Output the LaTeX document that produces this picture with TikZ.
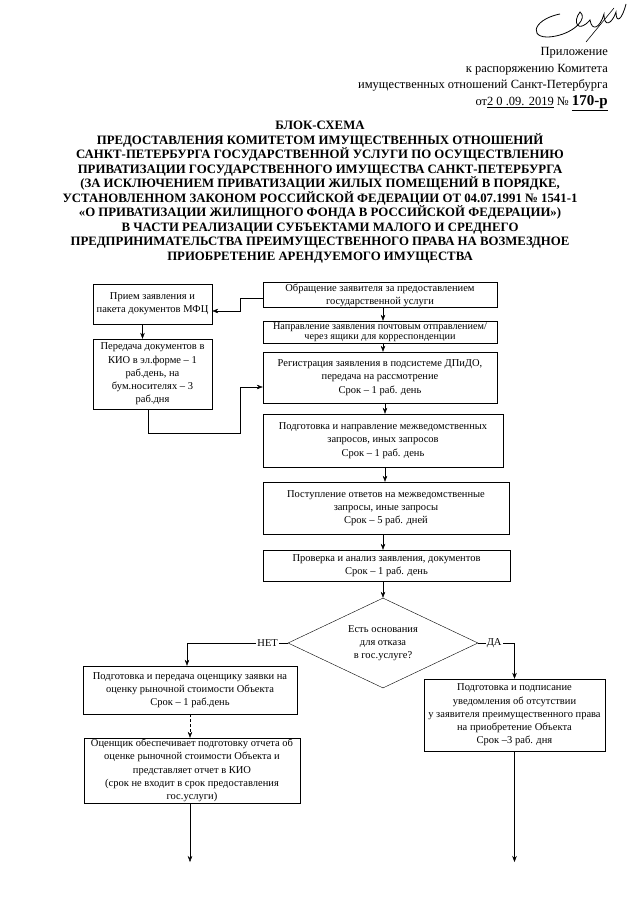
\documentclass[tikz,border=0pt]{standalone}
\usepackage{fontspec}
\setmainfont{Liberation Serif}
\usetikzlibrary{arrows.meta, shapes.geometric}

\tikzset{
    box/.style={draw, thin, align=center, inner sep=1pt,
        font=\fontsize{10.5}{13.2}\selectfont},
    lbl/.style={fill=white, inner sep=1pt, font=\fontsize{10.5}{11}\selectfont},
    >={Stealth[length=6pt, width=4.5pt]}
}

\begin{document}
\begin{tikzpicture}[x=1pt, y=-1pt]
    \useasboundingbox (0,0) rectangle (640,905);

    % signature
    \draw[line width=0.8pt]
        (560,14) .. controls (530,20) and (528,42) .. (556,36)
        .. controls (575,32) and (588,18) .. (580,12)
        .. controls (572,22) and (578,34) .. (590,20)
        .. controls (592,32) and (600,28) .. (604,14)
        .. controls (604,28) and (612,24) .. (616,12)
        .. controls (616,24) and (622,20) .. (626,4);
    \draw[line width=0.6pt] (586,42) -- (614,8);

    % header
    \node[anchor=north east, align=right, inner sep=0pt,
        font=\fontsize{12.5}{16.7}\selectfont] (head) at (608,47)
        {Приложение\\
         к распоряжению Комитета\\
         имущественных отношений Санкт-Петербурга\\
         от\underline{2 0 .09. 2019}~№~\underline{\textbf{\fontsize{15}{16}\selectfont 170-р}}};

    % title
    \node[anchor=north, align=center, inner sep=0pt,
        font=\bfseries\fontsize{12.8}{14.5}\selectfont] (title) at (320,121)
        {БЛОК-СХЕМА\\
         ПРЕДОСТАВЛЕНИЯ КОМИТЕТОМ ИМУЩЕСТВЕННЫХ ОТНОШЕНИЙ\\
         САНКТ-ПЕТЕРБУРГА ГОСУДАРСТВЕННОЙ УСЛУГИ ПО ОСУЩЕСТВЛЕНИЮ\\
         ПРИВАТИЗАЦИИ ГОСУДАРСТВЕННОГО ИМУЩЕСТВА САНКТ-ПЕТЕРБУРГА\\
         (ЗА ИСКЛЮЧЕНИЕМ ПРИВАТИЗАЦИИ ЖИЛЫХ ПОМЕЩЕНИЙ В ПОРЯДКЕ,\\
         УСТАНОВЛЕННОМ ЗАКОНОМ РОССИЙСКОЙ ФЕДЕРАЦИИ ОТ 04.07.1991 № 1541-1\\
         «О ПРИВАТИЗАЦИИ ЖИЛИЩНОГО ФОНДА В РОССИЙСКОЙ ФЕДЕРАЦИИ»)\\
         В ЧАСТИ РЕАЛИЗАЦИИ СУБЪЕКТАМИ МАЛОГО И СРЕДНЕГО\\
         ПРЕДПРИНИМАТЕЛЬСТВА ПРЕИМУЩЕСТВЕННОГО ПРАВА НА ВОЗМЕЗДНОЕ\\
         ПРИОБРЕТЕНИЕ АРЕНДУЕМОГО ИМУЩЕСТВА};

    % left column
    \node[box, minimum width=119, minimum height=40] (priem) at (152.5,304)
        {Прием заявления и\\пакета документов МФЦ};
    \node[box, minimum width=119, minimum height=70] (peredacha) at (152.5,374)
        {Передача документов в\\КИО в эл.форме – 1\\раб.день, на\\бум.носителях – 3\\раб.дня};

    % main column
    \node[box, minimum width=234, minimum height=24] (obrash) at (380,295)
        {Обращение заявителя за предоставлением\\государственной услуги};
    \node[box, minimum width=234, minimum height=22, inner sep=0.5pt,
        font=\fontsize{10.2}{10.2}\selectfont] (pochta) at (380,332)
        {Направление заявления почтовым отправлением/\\через ящики для корреспонденции};
    \node[box, minimum width=234, minimum height=51] (registr) at (380,377.5)
        {Регистрация заявления в подсистеме ДПиДО,\\передача на рассмотрение\\Срок – 1 раб. день};
    \node[box, minimum width=240, minimum height=53] (zapros) at (383,440.5)
        {Подготовка и направление межведомственных\\запросов, иных запросов\\Срок – 1 раб. день};
    \node[box, minimum width=246, minimum height=52] (otvety) at (386,508)
        {Поступление ответов на межведомственные\\запросы, иные запросы\\Срок – 5 раб. дней};
    \node[box, minimum width=247, minimum height=31] (proverka) at (386.5,565.5)
        {Проверка и анализ заявления, документов\\Срок – 1 раб. день};
    \node[box, diamond, aspect=2, inner sep=0pt, minimum width=190,
        minimum height=90] (osnov) at (383,643)
        {Есть основания\\для отказа\\в гос.услуге?};

    % branches
    \node[box, minimum width=214, minimum height=48] (zayavka) at (190,690)
        {Подготовка и передача оценщику заявки на\\оценку рыночной стоимости Объекта\\Срок – 1 раб.день};
    \node[box, minimum width=216, minimum height=65] (otchet) at (192,770.5)
        {Оценщик обеспечивает подготовку отчета об\\оценке рыночной стоимости Объекта и\\представляет отчет в КИО\\(срок не входит в срок предоставления\\гос.услуги)};
    \node[box, minimum width=181, minimum height=72] (uvedoml) at (514.5,715)
        {Подготовка и подписание\\уведомления об отсутствии\\у заявителя преимущественного права\\на приобретение Объекта\\Срок –3 раб. дня};

    \coordinate (endL) at (190,862);
    \coordinate (endR) at (514.5,862);

    % connectors
    \draw[->] ([yshift=-3pt]obrash.west) -- ++(-23,0) |- ([yshift=-7pt]priem.east);
    \draw[->] ([xshift=-10pt]priem.south) -- ([xshift=-10pt]priem.south |- peredacha.north);
    \draw[->] ([xshift=-4pt]peredacha.south) -- ++(0,24)
        -| ([xshift=-23pt, yshift=-9.5pt]registr.west) -- ([yshift=-9.5pt]registr.west);
    \draw[->] ([xshift=3pt]obrash.south) -- ([xshift=3pt]obrash.south |- pochta.north);
    \draw[->] ([xshift=3pt]pochta.south) -- ([xshift=3pt]pochta.south |- registr.north);
    \draw[->] ([xshift=5pt]registr.south) -- ([xshift=5pt]registr.south |- zapros.north);
    \draw[->] ([xshift=2pt]zapros.south) -- ([xshift=2pt]zapros.south |- otvety.north);
    \draw[->] ([xshift=-3pt]otvety.south) -- ([xshift=-3pt]otvety.south |- proverka.north);
    \draw[->] (osnov.north |- proverka.south) -- (osnov.north);
    \draw[->] (osnov.west) -| node[lbl, pos=0.1] {НЕТ} ([xshift=-3pt]zayavka.north);
    \draw[->] (osnov.east) -| node[lbl, pos=0.22] {ДА} (uvedoml.north);
    \draw[->, densely dashed] (zayavka.south) -- (zayavka.south |- otchet.north);
    \draw[->] (otchet.south -| endL) -- (endL);
    \draw[->] (uvedoml.south) -- (endR);
\end{tikzpicture}
\end{document}
